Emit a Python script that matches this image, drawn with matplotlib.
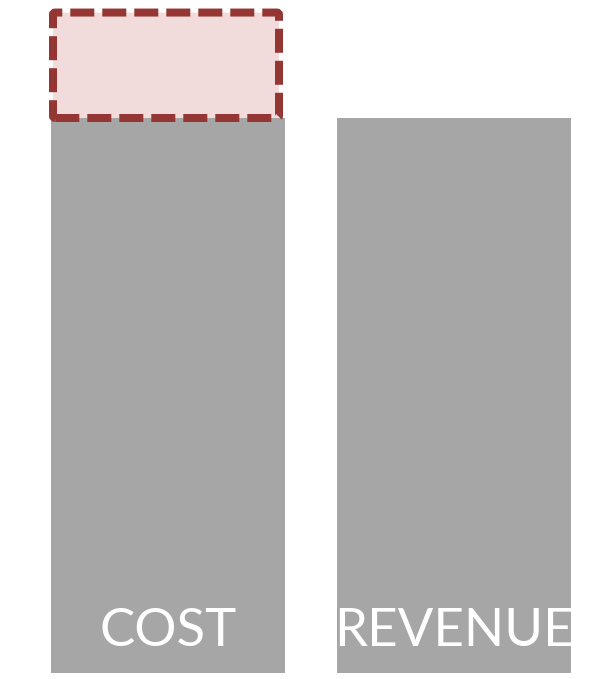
import matplotlib
matplotlib.use("Agg")
import matplotlib.pyplot as plt
from matplotlib.patches import FancyBboxPatch

categories = ["COST", "REVENUE"]
values = [100, 100]
cost_extra = 19

W, H, DPI = 598, 679, 100
fig = plt.figure(figsize=(W / DPI, H / DPI), dpi=DPI)
ax = fig.add_axes([0, 0, 1, 1])
px_per_unit_y = 555 / 100.0
ax.set_ylim(-6 / px_per_unit_y, 673 / px_per_unit_y)
ax.set_xlim(-168 / 286, (598 - 168) / 286)
ax.axis("off")

x = [0, 1]
bw = 234 / 286
ax.bar(x, values, width=bw, color="#a6a6a6", zorder=1)

# dashed "gap" box on top of cost
x0 = (53 - 168) / 286
x1 = (279 - 168) / 286
box = FancyBboxPatch((x0, values[0]), x1 - x0, cost_extra,
                     boxstyle="round,pad=0,rounding_size=0.008",
                     mutation_aspect=286 / px_per_unit_y,
                     facecolor="#f2dcdb", edgecolor="#943634",
                     linewidth=8 * 0.72, linestyle=(0, (3, 1)),
                     capstyle="butt", joinstyle="miter", zorder=2)
ax.add_patch(box)

for xi, lab in zip(x, categories):
    ax.text(xi, 27 / px_per_unit_y, lab, ha="center", va="baseline",
            color="white", fontsize=38, family="Lato", zorder=3)

fig.savefig("out.png", dpi=DPI)
